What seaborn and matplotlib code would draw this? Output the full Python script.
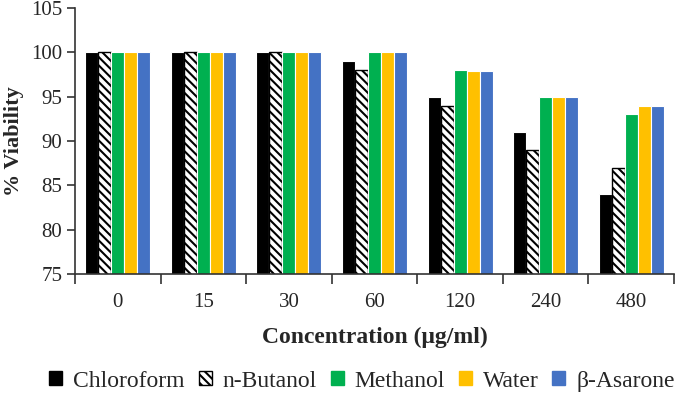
import numpy as np
import pandas as pd
import seaborn as sns
import matplotlib.pyplot as plt
from matplotlib.patches import Patch

concentrations = ['0', '15', '30', '60', '120', '240', '480']
extracts = ['Chloroform', 'n-Butanol', 'Methanol', 'Water', 'β-Asarone']
chloroform = [100, 100, 100, 99, 95, 91, 84]
butanol = [100, 100, 100, 98, 94, 89, 87]
methanol = [100, 100, 100, 100, 98, 95, 93]
water = [100, 100, 100, 100, 97.9, 94.95, 94]
asarone = [100, 100, 100, 100, 97.9, 94.95, 94]
colors = ['#000000', '#ffffff', '#00b050', '#ffc000', '#4472c4']

rows = []
for name, vals in zip(extracts, [chloroform, butanol, methanol, water, asarone]):
    for c, v in zip(concentrations, vals):
        rows.append({'conc': c, 'extract': name, 'viability': v})
df = pd.DataFrame(rows)

sns.set_style('ticks')
plt.rcParams['font.family'] = ['Liberation Serif', 'DejaVu Serif']
plt.rcParams['hatch.linewidth'] = 1.5

fig = plt.figure(figsize=(6.85, 4.11), dpi=100)
ax = fig.add_axes([75 / 685, 1 - 274 / 411, (674 - 75) / 685, (274 - 8) / 411])

sns.barplot(data=df, x='conc', y='viability', hue='extract', order=concentrations,
            hue_order=extracts, palette=colors, saturation=1, width=0.76, ax=ax,
            legend=False, edgecolor='white', linewidth=0.8)

# hatched n-Butanol bars
for bar in ax.containers[1]:
    bar.set_hatch('\\\\\\\\')
    bar.set_edgecolor('black')
    bar.set_linewidth(1.0)

ax.set_ylim(75, 105)
ax.set_yticks(np.arange(75, 106, 5))
ax.set_xlim(-0.5, len(concentrations) - 0.5)
ax.set_xticks(np.arange(-0.5, len(concentrations), 1.0), minor=True)
ax.tick_params(axis='x', which='major', length=0, labelsize=15, pad=14)
ax.tick_params(axis='x', which='minor', length=7, width=1.2, color='#333333')
ax.tick_params(axis='y', length=6, width=1.2, color='#333333', labelsize=15, pad=3)
for s in ['top', 'right']:
    ax.spines[s].set_visible(False)
for s in ['left', 'bottom']:
    ax.spines[s].set_linewidth(1.2)
    ax.spines[s].set_color('#333333')

ax.set_xlabel('Concentration (μg/ml)', fontsize=17, fontweight='bold', labelpad=10)
ax.set_ylabel('% Viability', fontsize=16, fontweight='bold')
ax.yaxis.set_label_coords(-0.085, 0.5)

handles = []
for name, col in zip(extracts, colors):
    if name == 'n-Butanol':
        handles.append(Patch(facecolor='white', edgecolor='black', hatch='\\\\\\\\', label=name))
    else:
        handles.append(Patch(facecolor=col, edgecolor=col, label=name))
fig.legend(handles=handles, loc='center', bbox_to_anchor=(362 / 685, 1 - 381 / 411), ncol=5,
           frameon=False, fontsize=17, handlelength=0.55, handleheight=0.55,
           handletextpad=0.45, columnspacing=0.6, borderpad=0)

fig.savefig('out.png', dpi=100)
